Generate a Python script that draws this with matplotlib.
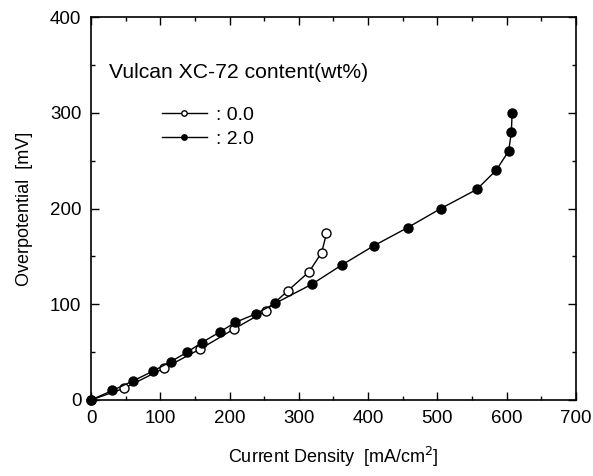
import matplotlib
matplotlib.use('Agg')
import matplotlib.pyplot as plt
from matplotlib.ticker import MultipleLocator

plt.rcParams['font.family'] = ['Liberation Sans', 'DejaVu Sans']
plt.rcParams.update({'font.size': 13.5})

# 0.0 wt% Vulcan XC-72
x0 = [0, 47, 105, 157, 206, 252, 284, 315, 333, 340]
y0 = [0, 12, 33, 53, 74, 93, 114, 134, 154, 174]

# 2.0 wt% Vulcan XC-72
x2 = [0, 31, 61, 89, 115, 139, 160, 186, 208, 238, 266, 319, 362, 408,
      457, 505, 557, 585, 603, 607, 608]
y2 = [0, 10, 20, 30, 40, 50, 60, 71, 81, 90, 101, 121, 141, 161,
      180, 200, 220, 240, 260, 280, 300]

fig = plt.figure(figsize=(5.93, 4.76), dpi=100)
ax = fig.add_axes([0.1535, 0.1597, 0.8175, 0.8043])

ax.plot(x0, y0, 'k-o', mfc='white', mec='black', ms=6.5, lw=1, mew=1,
        label=': 0.0', clip_on=False, zorder=3)
ax.plot(x2, y2, 'k-o', mfc='black', mec='black', ms=6.5, lw=1,
        label=': 2.0', clip_on=False, zorder=3)

ax.set_xlim(0, 700)
ax.set_ylim(0, 400)
ax.xaxis.set_major_locator(MultipleLocator(100))
ax.xaxis.set_minor_locator(MultipleLocator(50))
ax.yaxis.set_major_locator(MultipleLocator(100))
ax.yaxis.set_minor_locator(MultipleLocator(50))
ax.tick_params(which='both', direction='in', top=True, right=True, width=1)
ax.tick_params(which='major', length=6, pad=7)
ax.tick_params(which='minor', length=3)
for s in ax.spines.values():
    s.set_linewidth(1.2)

ax.set_xlabel(r'Current Density  [mA/cm$^2$]', fontsize=13, labelpad=13)
ax.set_ylabel('Overpotential  [mV]', fontsize=13, labelpad=12)

ax.text(0.038, 0.842, 'Vulcan XC-72 content(wt%)', transform=ax.transAxes,
        fontsize=15.2)
leg = ax.legend(loc='upper left', bbox_to_anchor=(0.11, 0.812), frameon=False,
                markerscale=0.6, handlelength=2.3, handletextpad=0.5,
                labelspacing=0.3, fontsize=14)

fig.savefig('out.png', dpi=100)
